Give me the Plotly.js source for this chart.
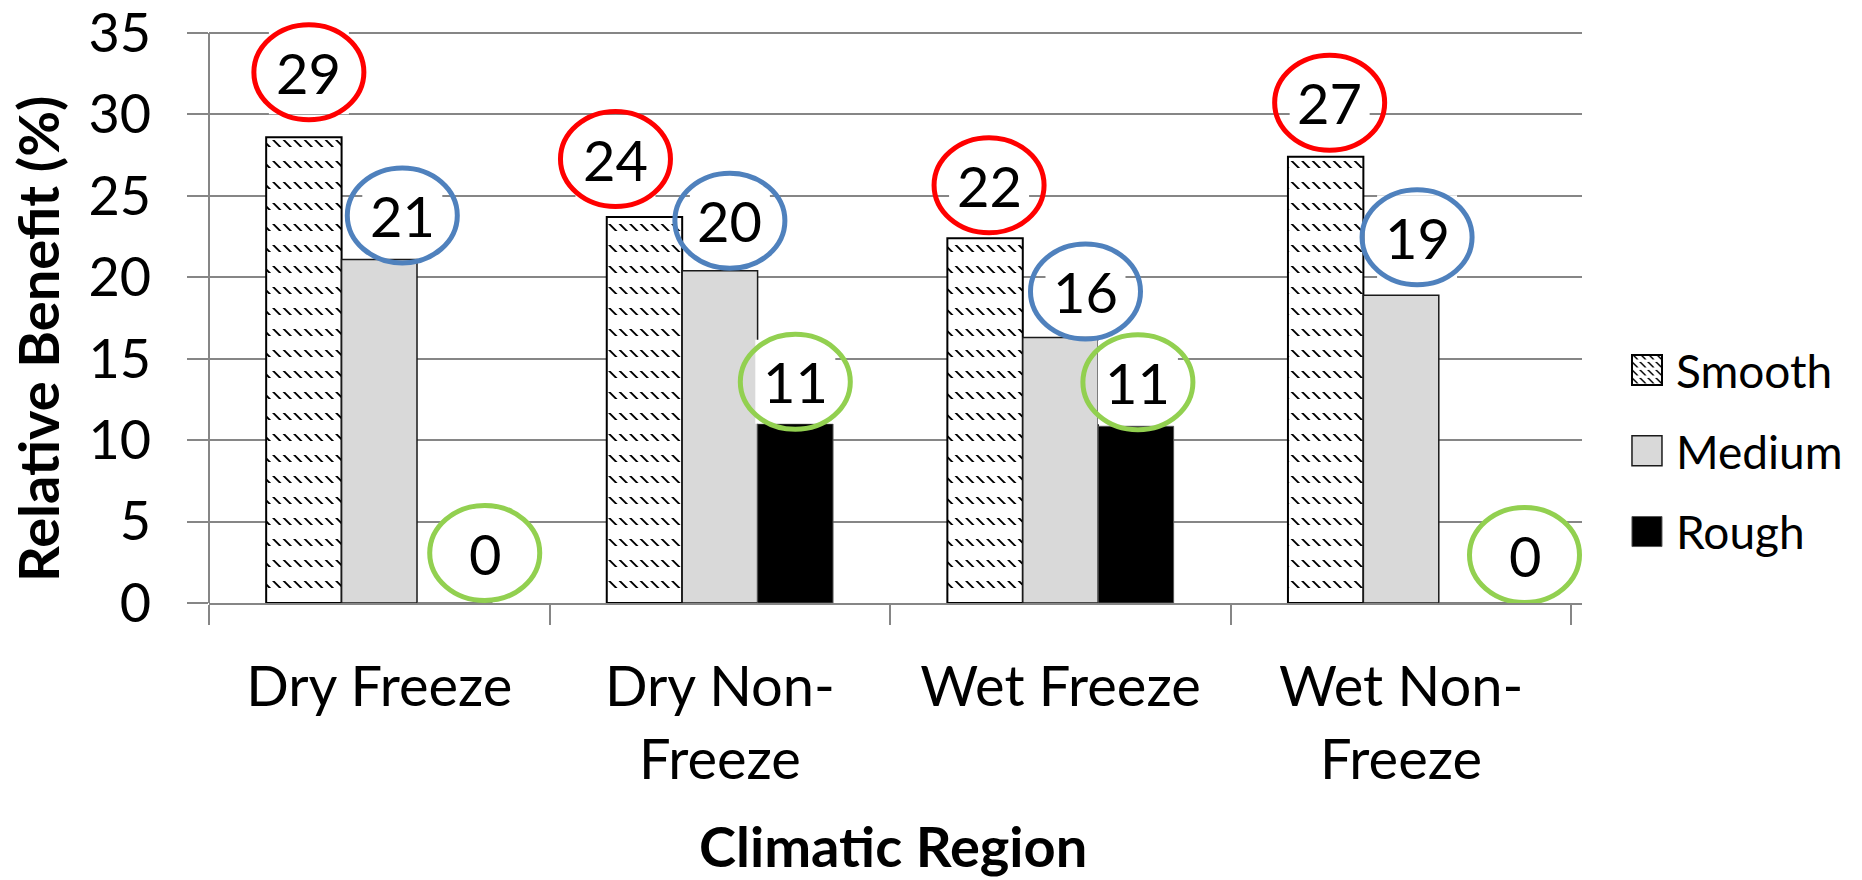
<!DOCTYPE html>
<html>
<head>
<meta charset="utf-8">
<script src="https://cdn.plot.ly/plotly-3.0.1.min.js"></script>
<style>
  html, body { margin: 0; padding: 0; background: #ffffff; }
  #chart { width: 1862px; height: 880px; }
</style>
</head>
<body>
<div id="chart"></div>
<script>
// Climatic regions on the x axis; long names wrap onto a second line
const regions = ['Dry Freeze', 'Dry Non-Freeze', 'Wet Freeze', 'Wet Non-Freeze'];
const regionTickText = ['Dry Freeze', 'Dry Non-<br>Freeze', 'Wet Freeze', 'Wet Non-<br>Freeze'];

// Relative benefit (%) for each surface texture, one value per region
const smooth = [28.6, 23.7, 22.4, 27.4];
const medium = [21.1, 20.4, 16.3, 18.9];
const rough  = [0, 11.0, 10.85, 0];

const seriesNames = ['Smooth', 'Medium', 'Rough'];
const yTickValues = [0, 5, 10, 15, 20, 25, 30, 35];

// ---- styling -------------------------------------------------------------
const FONT = 'Lato, "Open Sans", sans-serif';
const AXIS_GRAY = '#868686';
const ringColors = ['#ff0000', '#4f81bd', '#92d050'];
const BAR_GAP = 0.3357;
const slot = (1 - BAR_GAP) / seriesNames.length;

// Callout placement: pixels right of / above the top centre of each bar
const calloutShift = [
  [[5, 65], [-29, 58], [4, 53], [4, 54]],
  [[23, 44], [10, 50], [25, 46], [16, 58]],
  [[30, 50], [0, 42], [2, 44], [48, 48]]
];
const RING_RX = 55, RING_RY = 47.5;
const BOX_W = 80, BOX_H = 84;

const seriesValues = [smooth, medium, rough];

const traces = [
  {
    type: 'bar', name: seriesNames[0], x: regions, y: smooth,
    legendgroup: 'g0',
    marker: {
      color: '#ffffff',
      line: { color: '#000000', width: 2 },
      pattern: {
        shape: '',
        path: 'M0,0L2.6,0L9.6,7L7,7Z M10.5,0L13.1,0L20.1,7L17.5,7Z',
        fgcolor: '#000000', bgcolor: '#ffffff', size: 21, solidity: 0.3
      }
    }
  },
  {
    type: 'bar', name: seriesNames[1], x: regions, y: medium,
    legendgroup: 'g1',
    marker: { color: '#d9d9d9', line: { color: '#1a1a1a', width: 1.5 } }
  },
  {
    type: 'bar', name: seriesNames[2], x: regions, y: rough,
    legendgroup: 'g2',
    marker: { color: '#000000', line: { color: '#555555', width: 1 } }
  }
];

// Value callouts: white label box, coloured ring, rounded value text
const shapes = [];
const annotations = [];
const boxes = [], rings = [];
seriesValues.forEach((vals, s) => {
  vals.forEach((v, g) => {
    const xPos = g + (s - 1) * slot;
    const [dx, dy] = calloutShift[s][g];
    boxes.push({
      type: 'rect', xref: 'x', yref: 'y', xsizemode: 'pixel', ysizemode: 'pixel',
      xanchor: xPos, yanchor: v,
      x0: dx - BOX_W / 2, x1: dx + BOX_W / 2, y0: dy - BOX_H / 2, y1: dy + BOX_H / 2,
      fillcolor: '#ffffff', line: { width: 0 }, layer: 'above'
    });
    rings.push({
      type: 'circle', xref: 'x', yref: 'y', xsizemode: 'pixel', ysizemode: 'pixel',
      xanchor: xPos, yanchor: v,
      x0: dx - RING_RX, x1: dx + RING_RX, y0: dy - RING_RY, y1: dy + RING_RY,
      line: { color: ringColors[s], width: 5 }, fillcolor: 'rgba(0,0,0,0)', layer: 'above'
    });
    annotations.push({
      xref: 'x', yref: 'y', x: xPos, y: v, xshift: dx, yshift: dy,
      text: String(Math.round(v)), showarrow: false,
      xanchor: 'center', yanchor: 'middle',
      font: { family: FONT, size: 56, color: '#000000' }
    });
  });
});
shapes.push(...boxes, ...rings);

// Value axis line, stopping at the top tick
shapes.push({
  type: 'line', xref: 'paper', yref: 'y', x0: 0, x1: 0, y0: 0, y1: yTickValues[yTickValues.length - 1],
  line: { color: AXIS_GRAY, width: 2 }, layer: 'above'
});

// Axis titles
annotations.push({
  xref: 'paper', yref: 'paper', x: -0.1250, y: 0.449,
  text: '<b>Relative Benefit (%)</b>', textangle: -90, showarrow: false,
  xanchor: 'center', yanchor: 'middle',
  font: { family: FONT, size: 56, color: '#000000' }
});
annotations.push({
  xref: 'paper', yref: 'paper', x: 0.4982, y: -0.4115,
  text: '<b>Climatic Region</b>', showarrow: false,
  xanchor: 'center', yanchor: 'middle',
  font: { family: FONT, size: 56, color: '#000000' }
});

const layout = {
  width: 1862, height: 880,
  margin: { l: 209, r: 280, t: 14, b: 277, autoexpand: false },
  paper_bgcolor: '#ffffff', plot_bgcolor: '#ffffff',
  font: { family: FONT, color: '#000000' },
  barmode: 'group', bargap: BAR_GAP, bargroupgap: 0,
  showlegend: true,
  legend: {
    x: 1.0262, xanchor: 'left', y: 0.258, yanchor: 'middle',
    font: { family: FONT, size: 46, color: '#000000' },
    itemwidth: 48,
    traceorder: 'grouped', tracegroupgap: 18,
    bgcolor: 'rgba(0,0,0,0)', borderwidth: 0
  },
  xaxis: {
    type: 'category', categoryorder: 'array', categoryarray: regions,
    tickmode: 'array', tickvals: regions, ticktext: regionTickText,
    showline: true, linecolor: AXIS_GRAY, linewidth: 2,
    ticks: 'outside', tickson: 'boundaries', ticklen: 20, tickwidth: 2, tickcolor: AXIS_GRAY,
    showgrid: false, zeroline: false,
    tickfont: { family: FONT, size: 56, color: '#000000' },
    ticklabelstandoff: 34
  },
  yaxis: {
    range: [0, 36.17], tickmode: 'array', tickvals: yTickValues,
    showline: false, zeroline: false,
    showgrid: true, gridcolor: AXIS_GRAY, gridwidth: 2,
    ticks: 'outside', ticklen: 21, tickwidth: 2, tickcolor: AXIS_GRAY,
    tickfont: { family: FONT, size: 54, color: '#000000' },
    ticklabelstandoff: 25, ticklabeloverflow: 'allow'
  },
  shapes: shapes,
  annotations: annotations
};

const gd = document.getElementById('chart');
Plotly.newPlot(gd, traces, layout, { displayModeBar: false, staticPlot: true }).then(() => {
  // Larger legend swatches
  gd.querySelectorAll('.legendpoints path').forEach(p => p.setAttribute('d', 'M15,15H-15V-15H15Z'));
});
</script>
</body>
</html>
